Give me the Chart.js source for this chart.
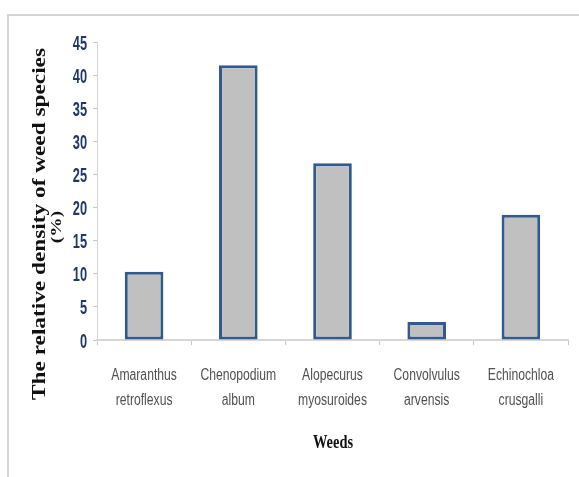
<!DOCTYPE html>
<html>
<head>
<meta charset="utf-8">
<script src="https://cdn.jsdelivr.net/npm/chart.js@4.4.1/dist/chart.umd.min.js"></script>
<style>
    html, body { margin: 0; padding: 0; background: #ffffff; }
    #wrap { position: relative; width: 579px; height: 477px; }
    #frame {
        position: absolute; left: 7px; top: 14px; right: 0; bottom: 0;
        border-top: 2px solid #d6d6d6; border-left: 2px solid #d6d6d6;
        pointer-events: none;
    }
</style>
</head>
<body>
<div id="wrap">
    <canvas id="weedChart" width="579" height="477"></canvas>
    <div id="frame"></div>
</div>
<script>
var weeds = [
    ["Amaranthus", "retroflexus"],
    ["Chenopodium", "album"],
    ["Alopecurus", "myosuroides"],
    ["Convolvulus", "arvensis"],
    ["Echinochloa", "crusgalli"]
];
var density = [10.3, 41.5, 26.7, 2.7, 18.9];
var yTitle = ["The relative density of weed species", "(%)"];
var xTitle = "Weeds";

// the original picture is squeezed sideways, so text is drawn narrowed
function squeezedText(ctx, text, x, y, sx) {
    ctx.save();
    ctx.translate(x, y);
    ctx.scale(sx, 1);
    ctx.fillText(text, 0, 0);
    ctx.restore();
}

var labelsPlugin = {
    id: 'labels',
    afterDraw: function (chart) {
        var ctx = chart.ctx;
        var xs = chart.scales.x, ys = chart.scales.y;
        ctx.save();
        ctx.textBaseline = "middle";

        // y tick labels
        ctx.fillStyle = "#1f3864";
        ctx.textAlign = "right";
        ctx.font = "bold 20px 'Liberation Sans', Arial, sans-serif";
        ys.ticks.forEach(function (t) {
            squeezedText(ctx, String(t.value), 87, ys.getPixelForValue(t.value) + 2, 0.64);
        });

        // x tick labels
        ctx.fillStyle = "#505050";
        ctx.textAlign = "center";
        ctx.font = "16px 'Liberation Sans', Arial, sans-serif";
        chart.data.labels.forEach(function (lab, i) {
            var px = xs.getPixelForTick(i);
            lab.forEach(function (line, j) {
                squeezedText(ctx, line, px, 376 + j * 25, 0.76);
            });
        });

        // axis titles
        ctx.fillStyle = "#111111";
        ctx.font = "bold 18px 'Liberation Serif', 'DejaVu Serif', serif";
        var w = ctx.measureText(yTitle[0]).width;
        var stretch = 352 / w;
        ctx.save();
        ctx.translate(40, 224);
        ctx.rotate(-Math.PI / 2);
        ctx.scale(stretch, 1);
        ctx.fillText(yTitle[0], 0, 0);
        ctx.restore();

        ctx.font = "bold 15px 'Liberation Serif', 'DejaVu Serif', serif";
        ctx.save();
        ctx.translate(57, 227);
        ctx.rotate(-Math.PI / 2);
        ctx.scale(stretch, 1);
        ctx.fillText(yTitle[1], 0, 0);
        ctx.restore();

        ctx.font = "bold 19px 'Liberation Serif', 'DejaVu Serif', serif";
        squeezedText(ctx, xTitle, 333, 443, 0.76);
        ctx.restore();
    }
};

var weedChart = new Chart(document.getElementById("weedChart"), {
    type: 'bar',
    data: {
        labels: weeds,
        datasets: [{
            data: density,
            backgroundColor: "#c0c0c0",
            borderColor: "#34598c",
            borderWidth: 3,
            borderSkipped: false,
            barPercentage: 0.41,
            categoryPercentage: 1.0
        }]
    },
    options: {
        responsive: false,
        animation: false,
        layout: { padding: { left: 0, top: 42, right: 11, bottom: 0 } },
        plugins: {
            legend: { display: false },
            tooltip: { enabled: false }
        },
        scales: {
            x: {
                offset: true,
                grid: {
                    offset: true,
                    drawOnChartArea: false,
                    tickLength: 5,
                    color: "#c8c8c8"
                },
                border: { color: "#d6d6d6", width: 2 },
                ticks: { display: false },
                afterFit: function (scale) { scale.height = 137; }
            },
            y: {
                min: 0,
                max: 45,
                ticks: { stepSize: 5, display: false },
                grid: {
                    drawOnChartArea: false,
                    tickLength: 4,
                    color: "#c8c8c8"
                },
                border: { color: "#d6d6d6", width: 1 },
                afterFit: function (scale) { scale.width = 97; }
            }
        }
    },
    plugins: [labelsPlugin]
});
</script>
</body>
</html>
